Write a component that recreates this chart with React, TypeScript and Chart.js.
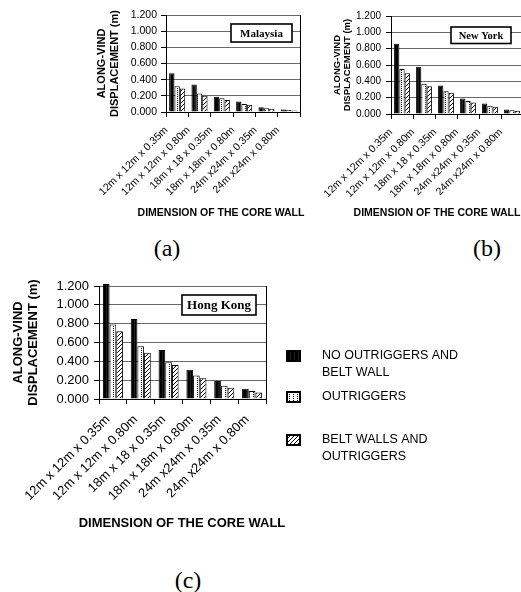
import React, { useEffect, useRef } from 'react';
import { Chart, registerables } from 'chart.js';

Chart.register(...registerables);

// ---------- data ----------
const categories = [
  '12m x 12m x 0.35m',
  '12m x 12m x 0.80m',
  '18m x 18 x 0.35m',
  '18m x 18m x 0.80m',
  '24m x24m x 0.35m',
  '24m x24m x 0.80m',
];
const yTickLabels = ['0.000', '0.200', '0.400', '0.600', '0.800', '1.000', '1.200'];
const seriesNames = ['NO OUTRIGGERS AND BELT WALL', 'OUTRIGGERS', 'BELT WALLS AND OUTRIGGERS'];
const legendLines = [['NO OUTRIGGERS AND', 'BELT WALL'], ['OUTRIGGERS'], ['BELT WALLS AND', 'OUTRIGGERS']];
const xAxisTitle = 'DIMENSION OF THE CORE WALL';
const yAxisTitle = ['ALONG-VIND', 'DISPLACEMENT (m)'];
const cityNames = ['Malaysia', 'New York', 'Hong Kong'];
const captions = ['(a)', '(b)', '(c)'];

const malaysiaNone = [0.48, 0.34, 0.19, 0.13, 0.06, 0.03];
const malaysiaOutriggers = [0.32, 0.23, 0.17, 0.10, 0.045, 0.025];
const malaysiaBelt = [0.29, 0.20, 0.15, 0.09, 0.04, 0.02];

const newYorkNone = [0.86, 0.58, 0.35, 0.19, 0.13, 0.055];
const newYorkOutriggers = [0.55, 0.37, 0.28, 0.16, 0.10, 0.045];
const newYorkBelt = [0.50, 0.34, 0.26, 0.14, 0.09, 0.04];

const hongKongNone = [1.22, 0.85, 0.52, 0.31, 0.19, 0.11];
const hongKongOutriggers = [0.79, 0.56, 0.39, 0.25, 0.14, 0.085];
const hongKongBelt = [0.72, 0.49, 0.36, 0.22, 0.12, 0.07];

const SANS = "'Liberation Sans', Arial, sans-serif";
const SERIF = "'Liberation Serif', 'Times New Roman', serif";

function makePatterns(): (CanvasPattern | string)[] {
  const mk = (draw: (g: CanvasRenderingContext2D) => void) => {
    const c = document.createElement('canvas');
    c.width = 4;
    c.height = 4;
    const g = c.getContext('2d')!;
    draw(g);
    return g.createPattern(c, 'repeat') || '#000';
  };
  const solid = mk((g) => {
    g.fillStyle = '#000';
    g.fillRect(0, 0, 4, 4);
    g.fillStyle = '#1e1e1e';
    g.fillRect(2, 0, 1, 4);
  });
  const dots = mk((g) => {
    g.fillStyle = '#fff';
    g.fillRect(0, 0, 4, 4);
    g.fillStyle = '#000';
    g.fillRect(1, 0, 1, 1);
    g.fillRect(1, 2, 1, 1);
  });
  const hatch = mk((g) => {
    g.fillStyle = '#fff';
    g.fillRect(0, 0, 4, 4);
    g.fillStyle = '#000';
    g.fillRect(3, 0, 1, 1);
    g.fillRect(2, 1, 1, 1);
    g.fillRect(1, 2, 1, 1);
    g.fillRect(0, 3, 1, 1);
  });
  return [solid, dots, hatch];
}

const decorPlugin = {
  id: 'decor',
  afterDraw(chart: any, _args: any, opts: any) {
    const { ctx, chartArea } = chart;
    ctx.save();
    if (opts.frameRight) {
      ctx.strokeStyle = '#000';
      ctx.lineWidth = 1;
      const x = Math.round(chartArea.right) + 0.5;
      ctx.beginPath();
      ctx.moveTo(x, chartArea.top);
      ctx.lineTo(x, chartArea.bottom);
      ctx.stroke();
    }
    if (opts.box) {
      const b = opts.box;
      ctx.fillStyle = '#fff';
      ctx.fillRect(b.x, b.y, b.w, b.h);
      ctx.strokeStyle = '#000';
      ctx.lineWidth = 1.6;
      ctx.strokeRect(b.x, b.y, b.w, b.h);
      ctx.font = b.font;
      ctx.fillStyle = '#000';
      ctx.textAlign = 'center';
      ctx.textBaseline = 'middle';
      ctx.fillText(b.text, b.x + b.w / 2, b.y + b.h / 2 + 1);
    }
    if (opts.xTitle) {
      const t = opts.xTitle;
      ctx.font = t.font;
      ctx.fillStyle = '#000';
      ctx.textAlign = 'center';
      ctx.textBaseline = 'middle';
      ctx.fillText(t.text, t.x, t.y);
    }
    if (opts.legend) {
      const L = opts.legend;
      chart.data.datasets.forEach((ds: any, i: number) => {
        const top = L.tops[i];
        ctx.fillStyle = ds.backgroundColor;
        ctx.fillRect(L.x, top, L.w, L.h);
        ctx.strokeStyle = '#000';
        ctx.lineWidth = 2;
        ctx.strokeRect(L.x, top, L.w, L.h);
        ctx.font = L.font;
        ctx.fillStyle = '#000';
        ctx.textAlign = 'left';
        ctx.textBaseline = 'middle';
        const lines = L.lines[i];
        lines.forEach((line: string, j: number) => {
          ctx.fillText(line, L.textX, top + L.h / 2 + j * L.lineHeight);
        });
      });
    }
    ctx.restore();
  },
};

interface PanelSpec {
  none: number[];
  outriggers: number[];
  belt: number[];
  width: number;
  height: number;
  padTop: number;
  padRight: number;
  yWidth: number;
  xHeight: number;
  tickSize: number;
  tickPadding: number;
  titleSize: number;
  titleLineHeight: number;
  titlePad: number;
  labelSize: number;
  labelOffset: number;
  labelPadding: number;
  decor: any;
}

function buildConfig(p: PanelSpec): any {
  const pats = makePatterns();
  const values = [p.none, p.outriggers, p.belt];
  return {
    type: 'bar',
    data: {
      labels: categories,
      datasets: values.map((v, i) => ({
        label: seriesNames[i],
        data: v,
        backgroundColor: pats[i],
        borderColor: '#000',
        borderWidth: 1,
        categoryPercentage: 0.72,
        barPercentage: 1,
        clip: false,
      })),
    },
    options: {
      responsive: false,
      animation: false,
      layout: { padding: { top: p.padTop, right: p.padRight, left: 0, bottom: 0 } },
      plugins: {
        legend: { display: false },
        tooltip: { enabled: false },
        title: { display: false },
        decor: p.decor,
      },
      scales: {
        x: {
          afterFit: (s: any) => {
            s.height = p.xHeight;
          },
          grid: {
            offset: true,
            drawOnChartArea: false,
            drawTicks: true,
            tickLength: 5,
            tickColor: '#000',
            color: '#000',
          },
          border: { display: true, color: '#000', width: 1 },
          ticks: {
            autoSkip: false,
            maxRotation: 45,
            minRotation: 45,
            color: '#000',
            font: { family: SANS, size: p.labelSize },
            labelOffset: p.labelOffset,
            padding: p.labelPadding,
          },
        },
        y: {
          min: 0,
          max: 1.2,
          afterFit: (s: any) => {
            s.width = p.yWidth;
          },
          grid: {
            color: '#6a6a6a',
            lineWidth: 1,
            drawTicks: true,
            tickLength: 5,
            tickColor: '#000',
          },
          border: { display: true, color: '#000', width: 1 },
          ticks: {
            stepSize: 0.2,
            color: '#000',
            padding: p.tickPadding,
            font: { family: SANS, size: p.tickSize },
            callback: (_v: any, i: number) => yTickLabels[i],
          },
          title: {
            display: true,
            text: yAxisTitle,
            color: '#000',
            font: { family: SANS, size: p.titleSize, weight: 'bold', lineHeight: p.titleLineHeight },
            padding: { top: p.titlePad, bottom: 0 },
          },
        },
      },
    },
    plugins: [decorPlugin],
  };
}

function Panel({ spec, left, top }: { spec: PanelSpec; left: number; top: number }) {
  const ref = useRef<HTMLCanvasElement>(null);
  useEffect(() => {
    const chart = new Chart(ref.current!, buildConfig(spec));
    return () => chart.destroy();
  }, []);
  return (
    <canvas
      ref={ref}
      width={spec.width}
      height={spec.height}
      style={{ position: 'absolute', left, top, width: spec.width, height: spec.height }}
    />
  );
}

const specA: PanelSpec = {
  none: malaysiaNone,
  outriggers: malaysiaOutriggers,
  belt: malaysiaBelt,
  width: 310,
  height: 228,
  padTop: 15,
  padRight: 10,
  yWidth: 166,
  xHeight: 116,
  tickSize: 10.5,
  tickPadding: 4,
  titleSize: 11,
  titleLineHeight: 1.2,
  titlePad: 95,
  labelSize: 10.5,
  labelOffset: -11,
  labelPadding: 7,
  decor: {
    frameRight: true,
    box: { x: 231, y: 24, w: 61, h: 18, text: cityNames[0], font: `bold 11px ${SERIF}` },
    xTitle: { text: xAxisTitle, x: 221, y: 213, font: `bold 10.5px ${SANS}` },
  },
};

const specB: PanelSpec = {
  none: newYorkNone,
  outriggers: newYorkOutriggers,
  belt: newYorkBelt,
  width: 211,
  height: 228,
  padTop: 16,
  padRight: 8,
  yWidth: 71,
  xHeight: 114,
  tickSize: 10,
  tickPadding: 5,
  titleSize: 9.5,
  titleLineHeight: 1.05,
  titlePad: 12,
  labelSize: 10.5,
  labelOffset: -11,
  labelPadding: 7,
  decor: {
    frameRight: true,
    box: { x: 131, y: 27, w: 60, h: 16.5, text: cityNames[1], font: `bold 10.5px ${SERIF}` },
    xTitle: { text: xAxisTitle, x: 117, y: 213, font: `bold 10.5px ${SANS}` },
  },
};

const specC: PanelSpec = {
  none: hongKongNone,
  outriggers: hongKongOutriggers,
  belt: hongKongBelt,
  width: 521,
  height: 290,
  padTop: 24,
  padRight: 255,
  yWidth: 99,
  xHeight: 153,
  tickSize: 13,
  tickPadding: 5,
  titleSize: 13,
  titleLineHeight: 1.15,
  titlePad: 10.5,
  labelSize: 13,
  labelOffset: -5,
  labelPadding: 8,
  decor: {
    frameRight: true,
    box: { x: 182, y: 33, w: 74, h: 20, text: cityNames[2], font: `bold 13px ${SERIF}` },
    xTitle: { text: xAxisTitle, x: 182, y: 261, font: `bold 13px ${SANS}` },
    legend: {
      x: 287,
      w: 13,
      h: 10,
      tops: [89, 130, 173],
      textX: 322,
      lineHeight: 16.7,
      font: `12.5px ${SANS}`,
      lines: legendLines,
    },
  },
};

const captionStyle: React.CSSProperties = {
  position: 'absolute',
  fontFamily: SERIF,
  fontSize: 24,
  lineHeight: '24px',
  color: '#000',
  transform: 'translate(-50%, -50%)',
  whiteSpace: 'nowrap',
};

export default function App() {
  return (
    <div
      style={{
        position: 'absolute',
        left: 0,
        top: 0,
        width: 521,
        height: 592,
        overflow: 'hidden',
        background: '#fff',
      }}
    >
      <Panel spec={specA} left={0} top={0} />
      <Panel spec={specB} left={320} top={0} />
      <Panel spec={specC} left={0} top={262} />
      <div style={{ ...captionStyle, left: 167, top: 248 }}>{captions[0]}</div>
      <div style={{ ...captionStyle, left: 487, top: 248 }}>{captions[1]}</div>
      <div style={{ ...captionStyle, left: 188, top: 580 }}>{captions[2]}</div>
    </div>
  );
}
